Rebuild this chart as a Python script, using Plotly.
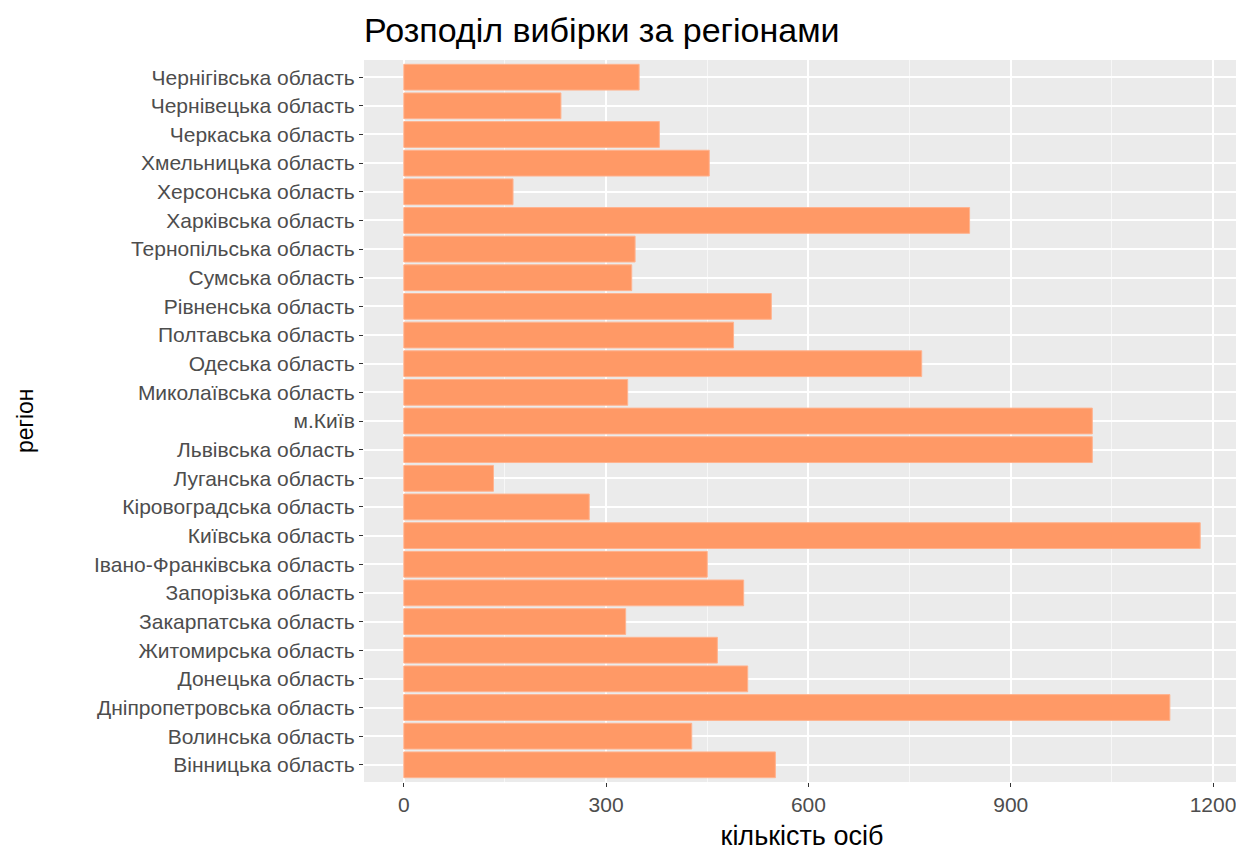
import plotly.graph_objects as go

regions = [
    "Вінницька область", "Волинська область", "Дніпропетровська область",
    "Донецька область", "Житомирська область", "Закарпатська область",
    "Запорізька область", "Івано-Франківська область", "Київська область",
    "Кіровоградська область", "Луганська область", "Львівська область",
    "м.Київ", "Миколаївська область", "Одеська область", "Полтавська область",
    "Рівненська область", "Сумська область", "Тернопільська область",
    "Харківська область", "Херсонська область", "Хмельницька область",
    "Черкаська область", "Чернівецька область", "Чернігівська область",
]
counts = [551, 427, 1136, 510, 465, 329, 504, 450, 1181, 275, 133, 1021,
          1021, 332, 768, 489, 545, 338, 343, 839, 162, 453, 379, 233, 349]

x_ticks = [0, 300, 600, 900, 1200]

# page has an 8px body margin; compensate so the panel lands where the reference has it
W, H = 1236, 843
L, R, T, B = 356, 4, 52, 66
panel_w = W - L - R

fig = go.Figure(go.Bar(
    x=counts, y=regions, orientation="h", width=0.9,
    marker=dict(color="#FF9966", line=dict(color="#FFB38F", width=1)),
))

fig.update_layout(
    width=W, height=H,
    margin=dict(l=L, r=R, t=T, b=B),
    paper_bgcolor="white", plot_bgcolor="#EBEBEB",
    font=dict(family="Liberation Sans, Arial, sans-serif"),
    title=dict(text="Розподіл вибірки за регіонами", x=L / W, xanchor="left",
               y=1 - 22 / H, yanchor="middle",
               font=dict(size=34, color="black")),
    showlegend=False,
    annotations=[dict(
        text="регіон", xref="paper", yref="paper",
        x=(25 - 364) / panel_w, y=0.5, xanchor="center", yanchor="middle",
        textangle=-90, showarrow=False, font=dict(size=23, color="black"),
    )],
)
fig.update_xaxes(
    range=[-59, 1240], tickvals=x_ticks, ticktext=[str(v) for v in x_ticks],
    showgrid=True, gridcolor="white", gridwidth=1.5,
    minor=dict(showgrid=True, gridcolor="#F7F7F7", gridwidth=0.8, dtick=150, tick0=150),
    ticks="outside", ticklen=4, tickcolor="#333333", tickwidth=1,
    tickfont=dict(size=21, color="#4D4D4D"),
    title=dict(text="кількість осіб", font=dict(size=27, color="black"), standoff=12),
    zeroline=False, showline=False,
)
fig.update_yaxes(
    categoryorder="array", categoryarray=regions, range=[-0.6, len(regions) - 0.4],
    showgrid=True, gridcolor="white", gridwidth=1.5,
    ticks="outside", ticklen=4, tickcolor="#333333", tickwidth=1,
    tickfont=dict(size=21, color="#4D4D4D"),
    zeroline=False, showline=False,
)

fig.write_html("out.html")
